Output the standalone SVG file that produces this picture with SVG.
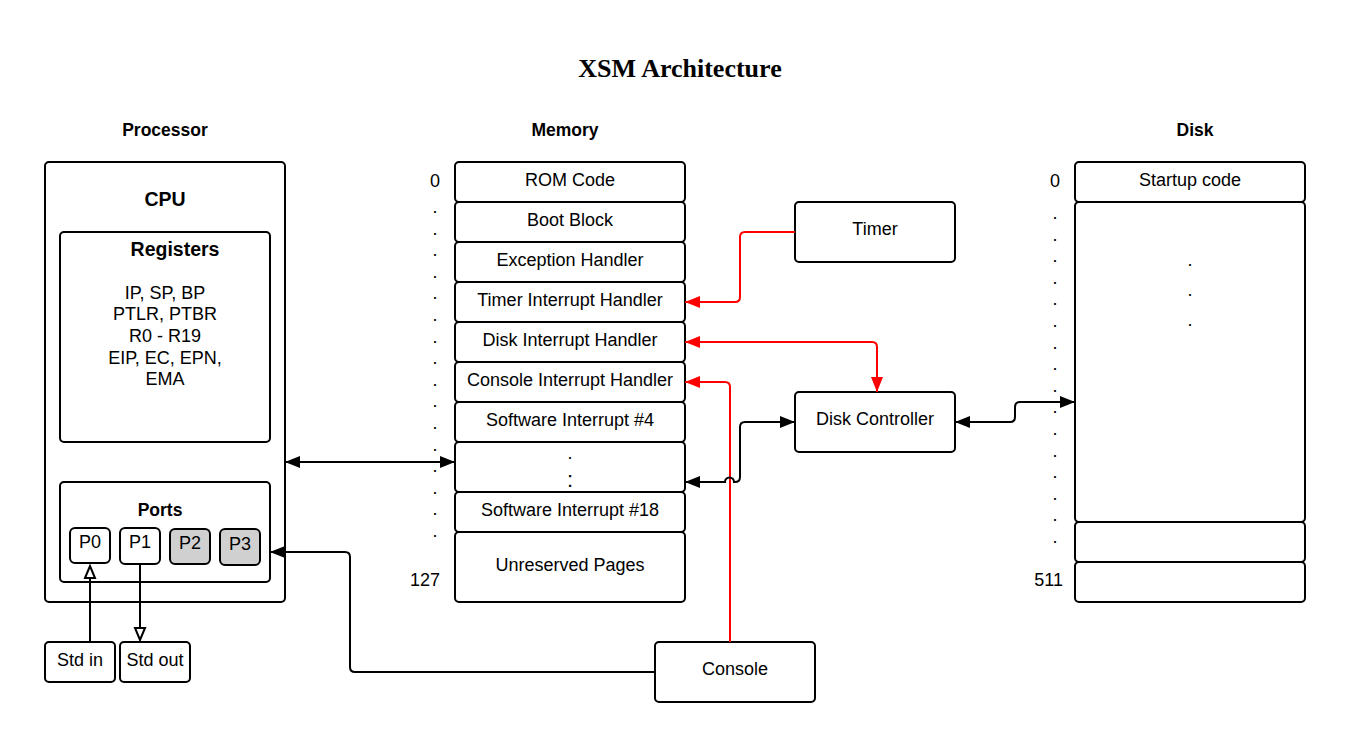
<svg xmlns="http://www.w3.org/2000/svg" width="1355" height="742" viewBox="0 0 1355 742">
<style>
.box{fill:#fff;stroke:#000;stroke-width:2}
.gray{fill:#d0d0d0;stroke:#000;stroke-width:2}
.t{font-family:"Liberation Sans",Arial,sans-serif;font-size:18px;fill:#000;text-anchor:middle}
.b{font-family:"Liberation Sans",Arial,sans-serif;font-size:17.5px;font-weight:bold;fill:#000;text-anchor:middle}
.bl{font-family:"Liberation Sans",Arial,sans-serif;font-size:19.5px;font-weight:bold;fill:#000;text-anchor:middle}
.e{text-anchor:end}
.k{fill:none;stroke:#000;stroke-width:2}
.r{fill:none;stroke:#f00;stroke-width:2}
</style>
<defs>
<marker id="arr" viewBox="0 0 15 12" refX="15" refY="6" markerWidth="15" markerHeight="12" markerUnits="userSpaceOnUse" orient="auto-start-reverse"><path d="M0,0 L15,6 L0,12 z" fill="#000"/></marker>
<marker id="arrR" viewBox="0 0 15 12" refX="15" refY="6" markerWidth="15" markerHeight="12" markerUnits="userSpaceOnUse" orient="auto-start-reverse"><path d="M0,0 L15,6 L0,12 z" fill="#f00"/></marker>
<marker id="hol" viewBox="-2 -2 16 14" refX="12" refY="5" markerWidth="16" markerHeight="14" markerUnits="userSpaceOnUse" orient="auto"><path d="M0,0 L12,5 L0,10 z" fill="#fff" stroke="#000" stroke-width="2"/></marker>
</defs>
<rect width="1355" height="742" fill="#fff"/>
<text x="680" y="77" style="font-family:'Liberation Serif','Times New Roman',serif;font-size:26px;font-weight:bold;text-anchor:middle">XSM Architecture</text>
<text class="b" x="165" y="136">Processor</text>
<text class="b" x="565" y="136">Memory</text>
<text class="b" x="1195" y="136">Disk</text>

<g id="processor">
<rect class="box" x="45" y="162" width="240" height="440" rx="4"/>
<text class="bl" x="165" y="206">CPU</text>
</g>
<g id="registers">
<rect class="box" x="60" y="232" width="210" height="210" rx="4"/>
<text class="bl" x="175" y="256">Registers</text>
<text class="t" x="165" y="299">IP, SP, BP</text>
<text class="t" x="165" y="320">PTLR, PTBR</text>
<text class="t" x="165" y="342">R0 - R19</text>
<text class="t" x="165" y="364">EIP, EC, EPN,</text>
<text class="t" x="165" y="385">EMA</text>
</g>
<g id="ports">
<rect class="box" x="60" y="482" width="210" height="100" rx="4"/>
<text class="b" x="160" y="516">Ports</text>
</g>
<g id="p0"><rect class="box" x="70" y="528" width="40" height="35" rx="5"/><text class="t" x="90" y="548">P0</text></g>
<g id="p1"><rect class="box" x="120" y="528" width="40" height="36" rx="5"/><text class="t" x="140" y="548">P1</text></g>
<g id="p2"><rect class="gray" x="170" y="529" width="40" height="35" rx="5"/><text class="t" x="190" y="549">P2</text></g>
<g id="p3"><rect class="gray" x="220" y="529" width="40" height="36" rx="5"/><text class="t" x="240" y="550">P3</text></g>
<g id="stdin"><rect class="box" x="45" y="642" width="70" height="40" rx="4"/><text class="t" x="80" y="666">Std in</text></g>
<g id="stdout"><rect class="box" x="120" y="642" width="70" height="40" rx="4"/><text class="t" x="155" y="666">Std out</text></g>

<g id="memory">
<rect class="box" x="455" y="162" width="230" height="40" rx="4"/><text class="t" x="570" y="186">ROM Code</text>
<rect class="box" x="455" y="202" width="230" height="40" rx="4"/><text class="t" x="570" y="226">Boot Block</text>
<rect class="box" x="455" y="242" width="230" height="40" rx="4"/><text class="t" x="570" y="266">Exception Handler</text>
<rect class="box" x="455" y="282" width="230" height="40" rx="4"/><text class="t" x="570" y="306">Timer Interrupt Handler</text>
<rect class="box" x="455" y="322" width="230" height="40" rx="4"/><text class="t" x="570" y="346">Disk Interrupt Handler</text>
<rect class="box" x="455" y="362" width="230" height="40" rx="4"/><text class="t" x="570" y="386">Console Interrupt Handler</text>
<rect class="box" x="455" y="402" width="230" height="40" rx="4"/><text class="t" x="570" y="426">Software Interrupt #4</text>
<rect class="box" x="455" y="442" width="230" height="50" rx="4"/>
<text class="t" x="570" y="459">.</text>
<text class="t" x="570" y="487" style="font-size:22px">:</text>
<rect class="box" x="455" y="492" width="230" height="40" rx="4"/><text class="t" x="570" y="516">Software Interrupt #18</text>
<rect class="box" x="455" y="532" width="230" height="70" rx="4"/><text class="t" x="570" y="571">Unreserved Pages</text>
</g>
<g id="memory-index">
<text class="t e" x="440" y="187">0</text>
<text class="t" x="435" y="213">.</text><text class="t" x="435" y="234.6">.</text><text class="t" x="435" y="256.2">.</text><text class="t" x="435" y="277.8">.</text>
<text class="t" x="435" y="299.4">.</text><text class="t" x="435" y="321">.</text><text class="t" x="435" y="342.6">.</text><text class="t" x="435" y="364.2">.</text>
<text class="t" x="435" y="385.8">.</text><text class="t" x="435" y="407.4">.</text><text class="t" x="435" y="429">.</text><text class="t" x="435" y="450.6">.</text>
<text class="t" x="435" y="472.2">.</text><text class="t" x="435" y="493.8">.</text><text class="t" x="435" y="515.4">.</text><text class="t" x="435" y="537">.</text>
<text class="t e" x="440" y="586">127</text>
</g>

<g id="timer"><rect class="box" x="795" y="202" width="160" height="60" rx="4"/><text class="t" x="875" y="235">Timer</text></g>
<g id="disk-controller"><rect class="box" x="795" y="392" width="160" height="60" rx="4"/><text class="t" x="875" y="425">Disk Controller</text></g>
<g id="console"><rect class="box" x="655" y="642" width="160" height="60" rx="4"/><text class="t" x="735" y="675">Console</text></g>

<g id="disk">
<rect class="box" x="1075" y="202" width="230" height="320" rx="4"/>
<rect class="box" x="1075" y="162" width="230" height="40" rx="4"/><text class="t" x="1190" y="186">Startup code</text>
<rect class="box" x="1075" y="522" width="230" height="40" rx="4"/>
<rect class="box" x="1075" y="562" width="230" height="40" rx="4"/>
<text class="t" x="1190" y="266">.</text><text class="t" x="1190" y="296">.</text><text class="t" x="1190" y="326">.</text>
</g>
<g id="disk-index">
<text class="t e" x="1060" y="187">0</text>
<text class="t" x="1055" y="219">.</text><text class="t" x="1055" y="240.6">.</text><text class="t" x="1055" y="262.2">.</text><text class="t" x="1055" y="283.8">.</text>
<text class="t" x="1055" y="305.4">.</text><text class="t" x="1055" y="327">.</text><text class="t" x="1055" y="348.6">.</text><text class="t" x="1055" y="370.2">.</text>
<text class="t" x="1055" y="391.8">.</text><text class="t" x="1055" y="413.4">.</text><text class="t" x="1055" y="435">.</text><text class="t" x="1055" y="456.6">.</text>
<text class="t" x="1055" y="478.2">.</text><text class="t" x="1055" y="499.8">.</text><text class="t" x="1055" y="521.4">.</text><text class="t" x="1055" y="543">.</text>
<text class="t e" x="1063" y="586">511</text>
</g>

<g id="connectors">
<path class="k" d="M90,642 V566" marker-end="url(#hol)"/>
<path class="k" d="M140,564 V640" marker-end="url(#hol)"/>
<path class="k" d="M285,462 H455" marker-start="url(#arr)" marker-end="url(#arr)"/>
<path class="k" d="M655,672 H355 Q350,672 350,667 V557 Q350,552 345,552 H270" marker-end="url(#arr)"/>
<path class="r" d="M795,232 H745 Q740,232 740,237 V297 Q740,302 735,302 H685" marker-end="url(#arrR)"/>
<path class="r" d="M685,342 H872 Q877,342 877,347 V392" marker-start="url(#arrR)" marker-end="url(#arrR)"/>
<path class="r" d="M730,642 V387 Q730,382 725,382 H685" marker-end="url(#arrR)"/>
<path class="k" d="M795,422 H745 Q740,422 740,427 V477 Q740,482 735,482 H734 A4.5,4.5 0 0 0 725,482 H685" marker-start="url(#arr)" marker-end="url(#arr)"/>
<path class="k" d="M955,422 H1010 Q1015,422 1015,417 V407 Q1015,402 1020,402 H1075" marker-start="url(#arr)" marker-end="url(#arr)"/>
</g>
</svg>
